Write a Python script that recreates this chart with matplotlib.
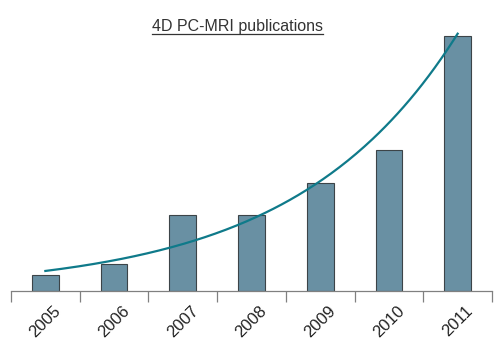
import numpy as np
import matplotlib
matplotlib.use("Agg")
import matplotlib.pyplot as plt
from matplotlib.lines import Line2D

years = ["2005", "2006", "2007", "2008", "2009", "2010", "2011"]
counts = [3, 5, 14, 14, 20, 26, 47]

plt.rcParams['font.family'] = ['Liberation Sans', 'DejaVu Sans']

fig = plt.figure(figsize=(5, 3.45), dpi=100)
ax = fig.add_axes([0.022, 0.1565, 0.962, 0.7855])

x = np.arange(len(years))
ax.bar(x, counts, width=0.39, color="#6990a3", edgecolor="#3c4448", linewidth=0.8, zorder=2)

# exponential trendline fitted to the counts
b, a = np.polyfit(x, np.log(counts), 1)
xs = np.linspace(0, len(years) - 1, 200)
ax.plot(xs, np.exp(a + b * xs), color="#0f7a8a", linewidth=1.6, zorder=3)

ax.set_xlim(-0.5, len(years) - 0.5)
ax.set_ylim(0, 50)
ax.set_yticks([])
for s in ["top", "left", "right"]:
    ax.spines[s].set_visible(False)
ax.spines["bottom"].set_color("#808080")
ax.spines["bottom"].set_linewidth(0.9)

ax.set_xticks(x)
ax.set_xticklabels(years, rotation=45, ha="center", va="top", fontsize=12, color="#222222")
ax.tick_params(axis="x", which="major", length=0, pad=9)
ax.set_xticks(np.arange(-0.5, len(years)), minor=True)
ax.tick_params(axis="x", which="minor", length=8, color="#808080", width=0.9)

t = fig.text(0.475, 0.924, "4D PC-MRI publications", ha="center", va="center",
             fontsize=11.5, color="#333333")
fig.canvas.draw()
bb = t.get_window_extent().transformed(fig.transFigure.inverted())
uy = bb.y0 - 0.002
fig.add_artist(Line2D([bb.x0, bb.x1], [uy, uy], transform=fig.transFigure,
                      color="#333333", linewidth=0.9))

fig.savefig("out.png", dpi=100, facecolor="white")
